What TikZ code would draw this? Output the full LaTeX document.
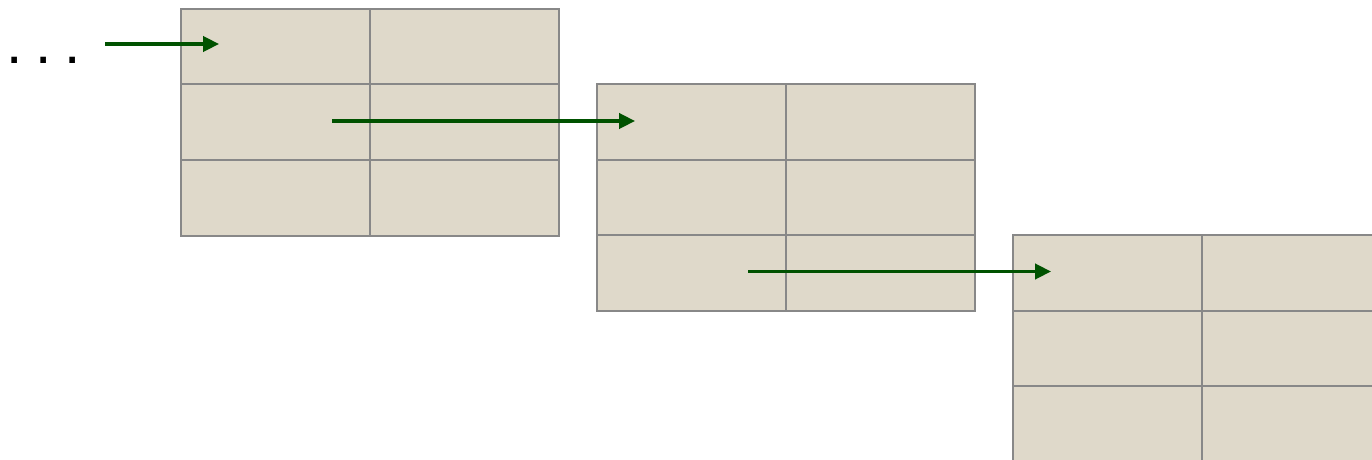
\documentclass[tikz,border=0pt]{standalone}
\usepackage{fontspec}
\setmainfont{Liberation Sans}
\usetikzlibrary{arrows.meta}
\definecolor{cellfill}{HTML}{DFD9CA}
\definecolor{cellline}{HTML}{888888}
\definecolor{arrowgreen}{HTML}{005200}
\begin{document}
\begin{tikzpicture}[x=0.75pt,y=-0.75pt,
  cell/.style={rectangle,draw=cellline,fill=cellfill,line width=1.5pt,
    minimum width=189*0.75pt,minimum height=75.5*0.75pt,inner sep=0pt,anchor=north west},
  link/.style={draw=arrowgreen,line width=2.4pt,-{Triangle[length=12pt,width=11.5pt]}}]
\useasboundingbox (0,0) rectangle (1372,460);
\fill[white] (0,0) rectangle (1372,460);
% tables
\foreach \t/\x/\y in {1/180/8, 2/596/83, 3/1012/234}{
  \foreach \r in {1,2,3}{
    \foreach \c in {1,2}{
      \node[cell] (t\t r\r c\c) at ({\x+(\c-1)*189},{\y+(\r-1)*75.5}) {};
    }
  }
}
\node[anchor=base west,font=\fontsize{44}{44}\selectfont,inner sep=0pt] (dots) at (6,64) {.\kern9.5pt.\kern9.5pt.};
\coordinate (s1) at (105,44);
\coordinate (e1) at (219,44);
\coordinate (s2) at (332,121);
\coordinate (e2) at (635,121);
\coordinate (s3) at (748,271.5);
\coordinate (e3) at (1051,271.5);
\draw[link] (s1) -- (e1);
\draw[link] (s2) -- (e2);
\draw[link] (s3) -- (e3);
\end{tikzpicture}
\end{document}
